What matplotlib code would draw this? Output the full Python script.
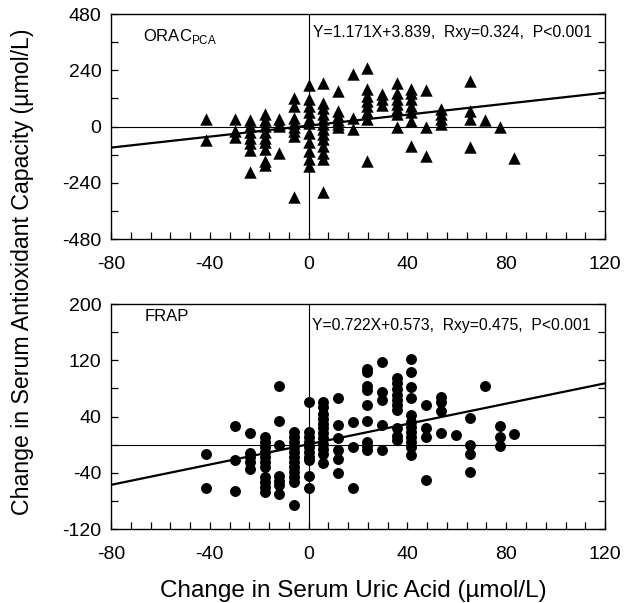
"""Two-panel scatter: change in serum antioxidant capacity vs change in uric acid."""

import matplotlib

matplotlib.use("Agg")

import matplotlib.pyplot as plt
from matplotlib.ticker import MultipleLocator

plt.rcParams["font.family"] = ["Liberation Sans", "DejaVu Sans"]
plt.rcParams["axes.unicode_minus"] = False
plt.rcParams["mathtext.fontset"] = "custom"
plt.rcParams["mathtext.rm"] = "Liberation Sans"

# x levels (umol/L) and the y values stacked at each level
orac_x_levels = [-41.6, -29.7, -23.8, -17.8, -11.9, -5.9, 0.0, 5.9, 11.9, 17.8,
                 23.8, 29.7, 35.7, 41.6, 47.6, 53.5, 65.4, 71.4, 77.3, 83.3]
orac_y_values = [
    [34, -57],
    [31, -18, -44],
    [28, 3, -23, -47, -72, -99, -193],
    [53, 28, 3, -23, -47, -68, -97, -146, -163],
    [34, 10, 3, -111],
    [121, 88, 38, 14, -4, -18, -40, -302],
    [176, 116, 88, 60, 31, 14, -26, -68, -104, -139, -168],
    [185, 102, 81, 53, 31, 10, -11, -33, -54, -82, -111, -139, -278],
    [153, 67, 45, 28, 10, -4],
    [226, 38, -11],
    [251, 159, 131, 109, 88, 60, 31, -146],
    [138, 116, 91],
    [187, 141, 116, 95, 74, 53, -4],
    [162, 141, 116, 88, 60, 24, -82],
    [156, -4, -125],
    [74, 53, 31, 10],
    [195, 67, 31, -89],
    [28],
    [-4],
    [-136],
]

frap_x_levels = [-41.6, -29.7, -23.8, -17.8, -11.9, -5.9, 0.0, 5.9, 11.9, 17.8,
                 23.8, 29.7, 35.7, 41.6, 47.6, 53.5, 59.5, 65.4, 71.4, 77.3, 83.3]
frap_y_values = [
    [-13, -61],
    [26, -22, -66],
    [17, -12, -18, -25, -34],
    [11, 4, -3, -10, -18, -25, -32, -46, -53, -60, -68],
    [83, 34, -1, -44, -51, -58, -70],
    [18, 11, 4, -3, -10, -18, -25, -32, -39, -46, -53, -86],
    [60, 18, 11, 4, -3, -10, -18, -22, -44, -61],
    [61, 54, 44, 37, 30, 23, 16, 9, 1, -6, -13, -26],
    [67, 28, 9, -7, -21, -41],
    [32, -3, -61],
    [108, 103, 84, 78, 57, 34, 4, -2, -8],
    [118, 75, 63, 28, -7],
    [95, 87, 79, 71, 63, 56, 49, 23, 13, 6],
    [122, 104, 82, 67, 42, 32, 25, 18, 11, 4, -3, -15],
    [57, 23, 11, -50],
    [68, 61, 48, 17],
    [14],
    [38, -1, -13, -39],
    [83],
    [26, 11, -2],
    [15],
]

orac_fit = (1.171, 3.839)
frap_fit = (0.722, 0.573)
orac_note = "Y=1.171X+3.839,  Rxy=0.324,  P<0.001"
frap_note = "Y=0.722X+0.573,  Rxy=0.475,  P<0.001"

x_limits = (-80, 120)
x_ticks = [-80, -40, 0, 40, 80, 120]
orac_limits = (-480, 480)
orac_ticks = [-480, -240, 0, 240, 480]
frap_limits = (-120, 200)
frap_ticks = [-120, -40, 40, 120, 200]


def _expand(levels, values):
    xs, ys = [], []
    for x, col in zip(levels, values):
        xs.extend([x] * len(col))
        ys.extend(col)
    return xs, ys


def _style_axis(ax, ylim, yticks, yminor):
    ax.set_xlim(*x_limits)
    ax.set_ylim(*ylim)
    ax.set_xticks(x_ticks)
    ax.set_yticks(yticks)
    ax.xaxis.set_minor_locator(MultipleLocator(8))
    ax.yaxis.set_minor_locator(MultipleLocator(yminor))
    ax.tick_params(which="both", direction="in", length=5, width=0.9,
                   top=False, right=True, labelsize=14)
    ax.tick_params(axis="x", pad=12)
    ax.tick_params(axis="y", pad=7)
    for spine in ax.spines.values():
        spine.set_linewidth(1.0)
    ax.axhline(0, color="black", linewidth=0.8, zorder=1)
    ax.axvline(0, color="black", linewidth=0.8, zorder=1)


def _fit_line(ax, fit):
    slope, intercept = fit
    xs = list(x_limits)
    ys = [slope * x + intercept for x in xs]
    ax.plot(xs, ys, color="black", linewidth=1.6, zorder=2)


fig = plt.figure(figsize=(6.35, 6.03), dpi=100)
ax_top = fig.add_axes([0.1748, 0.6036, 0.778, 0.3731])
ax_bot = fig.add_axes([0.1748, 0.1227, 0.778, 0.3731])

ox, oy = _expand(orac_x_levels, orac_y_values)
ax_top.scatter(ox, oy, marker="^", s=80, color="black", linewidths=0, zorder=3)
_fit_line(ax_top, orac_fit)
_style_axis(ax_top, orac_limits, orac_ticks, 120)
ax_top.text(0.065, 0.9, r"ORAC$_{\mathregular{PCA}}$", transform=ax_top.transAxes,
            fontsize=12, ha="left", va="center")
ax_top.text(0.974, 0.916, orac_note, transform=ax_top.transAxes,
            fontsize=11.3, ha="right", va="center")

fx, fy = _expand(frap_x_levels, frap_y_values)
ax_bot.scatter(fx, fy, marker="o", s=62, color="black", linewidths=0, zorder=3)
_fit_line(ax_bot, frap_fit)
_style_axis(ax_bot, frap_limits, frap_ticks, 40)
ax_bot.text(0.069, 0.944, "FRAP", transform=ax_bot.transAxes,
            fontsize=12, ha="left", va="center")
ax_bot.text(0.970, 0.904, frap_note, transform=ax_bot.transAxes,
            fontsize=11.3, ha="right", va="center")

fig.text(0.557, 0.0105, "Change in Serum Uric Acid (µmol/L)",
         fontsize=17.5, ha="center", va="baseline")
fig.text(0.035, 0.549, "Change in Serum Antioxidant Capacity (µmol/L)",
         rotation=90, fontsize=16.7, ha="center", va="center")

fig.savefig("out.png", dpi=100)
plt.close(fig)
